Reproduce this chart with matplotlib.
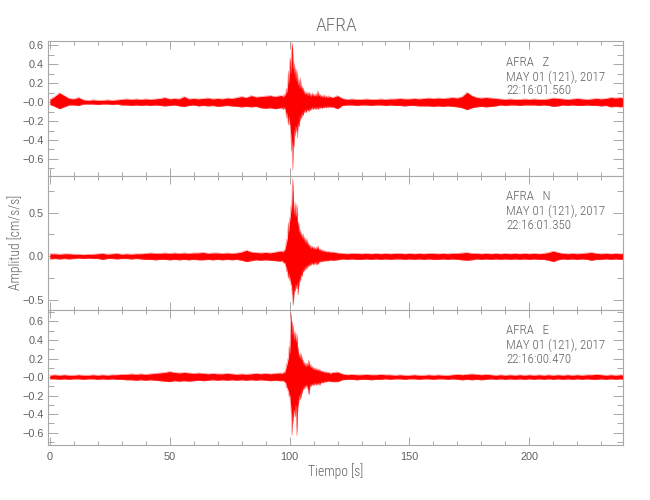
import numpy as np
import matplotlib
matplotlib.use('Agg')
import matplotlib.pyplot as plt
from matplotlib import font_manager
from matplotlib.ticker import FixedLocator, FixedFormatter, MultipleLocator

# ---------------- data (envelope of each trace) ----------------
station = "AFRA"
components = ["Z", "N", "E"]
start_times = ["22:16:01.560", "22:16:01.350", "22:16:00.470"]
date_label = "MAY 01 (121), 2017"

# time grids of the read envelope samples (s)
t_pre = np.arange(0, 97, 2.0)        # 0 .. 96
t_evt = np.arange(97, 117, 0.25)     # 97 .. 116.75
t_post = np.arange(118, 241, 2.0)    # 118 .. 240

# ---- Z ----
z_upper_pre = [.03, .06, .10, .07, .04, .035, .05, .025, .02, .025,
               .02, .02, .025, .02, .025, .03, .035, .03, .035, .03,
               .035, .03, .035, .04, .05, .035, .04, .035, .06, .035,
               .04, .035, .04, .045, .035, .04, .035, .045, .04, .05,
               .06, .05, .07, .055, .06, .065, .07, .06, .07]
z_lower_pre = [-.025, -.045, -.07, -.05, -.03, -.03, -.035, -.02, -.02, -.02,
               -.025, -.02, -.02, -.025, -.02, -.03, -.03, -.035, -.03, -.035,
               -.03, -.035, -.03, -.035, -.04, -.035, -.03, -.04, -.045, -.035,
               -.03, -.04, -.035, -.04, -.035, -.045, -.04, -.035, -.04, -.045,
               -.05, -.045, -.05, -.045, -.06, -.065, -.06, -.07, -.06]
z_upper_evt = [.07, .05, .08, .06, .09, .07, .12, .15, .10, .22, .33, .20,
               .42, .47, .30, .55, .63, .57, .35, .43, .30, .38, .25, .35,
               .22, .33, .20, .18, .24, .15, .26, .18, .14, .17, .12, .15,
               .10, .12, .08, .10, .09, .11, .07, .10, .08, .11, .07, .09,
               .06, .08, .10, .07, .09, .06, .08, .07, .09, .06, .10, .12,
               .08, .07, .09, .06, .08, .06, .07, .05, .07, .06, .08, .05,
               .06, .07, .05, .06, .05, .07, .05, .06]
z_lower_evt = [-.06, -.08, -.05, -.07, -.06, -.09, -.12, -.17, -.11, -.20, -.24, -.15,
               -.22, -.27, -.35, -.52, -.40, -.72, -.45, -.48, -.30, -.36, -.25, -.31,
               -.28, -.38, -.22, -.26, -.24, -.16, -.20, -.14, -.17, -.11, -.14, -.13,
               -.09, -.11, -.08, -.10, -.11, -.07, -.09, -.08, -.10, -.07, -.09, -.06,
               -.08, -.07, -.05, -.08, -.06, -.07, -.05, -.08, -.06, -.07, -.05, -.08,
               -.06, -.05, -.07, -.05, -.06, -.05, -.07, -.05, -.06, -.05, -.06, -.04,
               -.06, -.05, -.06, -.04, -.05, -.06, -.04, -.05]
z_upper_post = [.05, .07, .04, .03, .035, .03, .03, .035, .03, .03,
                .035, .03, .035, .035, .04, .035, .035, .04, .035, .04,
                .045, .04, .045, .04, .045, .05, .045, .06, .105, .07,
                .05, .045, .05, .045, .04, .035, .03, .035, .03, .03,
                .035, .03, .035, .03, .03, .035, .045, .04, .035, .03,
                .035, .04, .035, .03, .035, .04, .035, .04, .05, .045,
                .05, .04]
z_lower_post = [-.05, -.07, -.035, -.03, -.03, -.035, -.03, -.03, -.035, -.03,
                -.03, -.035, -.03, -.035, -.035, -.04, -.035, -.035, -.04, -.04,
                -.04, -.045, -.04, -.045, -.04, -.045, -.05, -.06, -.08, -.06,
                -.05, -.045, -.05, -.045, -.04, -.03, -.035, -.03, -.03, -.035,
                -.03, -.03, -.03, -.035, -.03, -.035, -.045, -.04, -.03, -.035,
                -.03, -.035, -.035, -.03, -.035, -.035, -.04, -.035, -.05, -.045,
                -.05, -.045]

# ---- N ----
n_upper_pre = [.03, .03, .025, .03, .03, .025, .025, .02, .025, .025,
               .03, .035, .025, .03, .035, .025, .03, .025, .03, .03,
               .035, .04, .035, .035, .04, .035, .04, .035, .04, .035,
               .04, .04, .045, .035, .04, .04, .035, .04, .035, .04,
               .05, .07, .05, .045, .04, .045, .04, .05, .06]
n_lower_pre = [-.03, -.025, -.03, -.025, -.03, -.025, -.02, -.025, -.02, -.025,
               -.025, -.035, -.025, -.025, -.03, -.025, -.025, -.03, -.025, -.03,
               -.035, -.035, -.04, -.035, -.035, -.04, -.035, -.04, -.035, -.04,
               -.035, -.04, -.04, -.035, -.04, -.035, -.04, -.035, -.04, -.035,
               -.045, -.06, -.05, -.04, -.045, -.04, -.045, -.05, -.055]
n_upper_evt = [.06, .05, .07, .06, .08, .10, .14, .20, .16, .30, .39, .28,
               .45, .40, .58, .50, .70, .89, .73, .55, .48, .62, .45, .52,
               .60, .42, .35, .39, .28, .31, .25, .28, .22, .25, .20, .26,
               .18, .22, .16, .20, .15, .20, .13, .16, .12, .14, .10, .125,
               .09, .12, .10, .11, .08, .11, .09, .10, .08, .11, .09, .12,
               .10, .08, .07, .09, .06, .08, .07, .065, .06, .07, .055, .065,
               .05, .06, .055, .05, .06, .05, .055, .05]
n_lower_evt = [-.05, -.07, -.06, -.08, -.07, -.10, -.12, -.18, -.14, -.22, -.25, -.20,
               -.28, -.24, -.33, -.30, -.42, -.48, -.56, -.45, -.38, -.40, -.32, -.36,
               -.37, -.30, -.44, -.35, -.29, -.25, -.29, -.22, -.20, -.23, -.16, -.18,
               -.14, -.17, -.12, -.15, -.11, -.14, -.10, -.12, -.09, -.11, -.10, -.08,
               -.10, -.07, -.09, -.08, -.10, -.07, -.09, -.06, -.08, -.10, -.07, -.09,
               -.08, -.06, -.07, -.05, -.065, -.05, -.06, -.05, -.06, -.045, -.055, -.05,
               -.045, -.055, -.05, -.045, -.05, -.045, -.05, -.04]
n_upper_post = [.05, .04, .035, .03, .035, .035, .03, .035, .03, .035,
                .03, .035, .03, .035, .035, .03, .035, .03, .035, .03,
                .035, .035, .03, .035, .03, .035, .035, .04, .045, .035,
                .035, .03, .035, .03, .035, .03, .035, .03, .035, .03,
                .035, .03, .035, .03, .035, .045, .06, .045, .035, .03,
                .035, .03, .035, .04, .045, .035, .03, .035, .03, .035,
                .03, .035]
n_lower_post = [-.045, -.04, -.03, -.035, -.03, -.035, -.035, -.03, -.035, -.03,
                -.035, -.03, -.035, -.03, -.03, -.035, -.03, -.035, -.03, -.035,
                -.03, -.035, -.035, -.03, -.035, -.03, -.035, -.04, -.045, -.04,
                -.03, -.035, -.03, -.035, -.03, -.035, -.03, -.035, -.03, -.035,
                -.03, -.035, -.03, -.035, -.035, -.045, -.06, -.04, -.03, -.035,
                -.03, -.035, -.03, -.035, -.045, -.035, -.035, -.03, -.035, -.03,
                -.035, -.03]

# ---- E ----
e_upper_pre = [.02, .025, .02, .025, .02, .02, .025, .02, .02, .025,
               .02, .025, .02, .025, .025, .03, .03, .035, .03, .035,
               .03, .035, .04, .045, .05, .06, .05, .045, .05, .045,
               .04, .045, .04, .035, .04, .035, .035, .04, .035, .03,
               .035, .03, .035, .04, .035, .04, .035, .04, .045]
e_lower_pre = [-.02, -.02, -.025, -.02, -.025, -.02, -.02, -.025, -.02, -.02,
               -.025, -.02, -.025, -.02, -.025, -.025, -.03, -.03, -.035, -.03,
               -.035, -.03, -.035, -.04, -.045, -.05, -.04, -.045, -.04, -.045,
               -.04, -.035, -.04, -.035, -.03, -.035, -.03, -.035, -.03, -.035,
               -.03, -.035, -.03, -.035, -.03, -.035, -.04, -.035, -.04]
e_upper_evt = [.04, .05, .04, .06, .05, .08, .10, .15, .12, .20, .18, .33,
               .25, .40, .70, .62, .58, .45, .56, .48, .40, .49, .42, .38,
               .47, .35, .30, .26, .22, .25, .20, .26, .18, .22, .15, .18,
               .13, .16, .12, .15, .11, .15, .12, .16, .18, .13, .11, .14,
               .10, .12, .09, .11, .08, .10, .09, .08, .10, .07, .09, .08,
               .07, .09, .06, .08, .07, .06, .07, .055, .065, .05, .06, .055,
               .05, .06, .045, .055, .05, .045, .055, .04]
e_lower_evt = [-.04, -.035, -.05, -.04, -.06, -.05, -.08, -.12, -.10, -.15, -.13, -.21,
               -.18, -.25, -.32, -.45, -.63, -.40, -.50, -.35, -.38, -.43, -.30, -.45,
               -.63, -.40, -.30, -.28, -.20, -.25, -.18, -.23, -.15, -.18, -.12, -.14,
               -.10, -.13, -.09, -.11, -.08, -.10, -.12, -.15, -.19, -.14, -.10, -.08,
               -.10, -.07, -.09, -.08, -.07, -.09, -.06, -.08, -.07, -.09, -.06, -.08,
               -.07, -.06, -.09, -.07, -.06, -.055, -.065, -.05, -.06, -.05, -.055, -.045,
               -.055, -.05, -.045, -.05, -.04, -.05, -.04, -.045]
e_upper_post = [.05, .055, .035, .025, .03, .025, .025, .03, .025, .025,
                .03, .025, .025, .02, .025, .02, .02, .025, .02, .02,
                .025, .02, .025, .02, .02, .025, .03, .025, .03, .035,
                .03, .025, .03, .025, .02, .025, .02, .025, .02, .025,
                .02, .025, .02, .025, .02, .025, .02, .025, .02, .025,
                .02, .025, .02, .025, .025, .03, .025, .02, .025, .02,
                .025, .02]
e_lower_post = [-.05, -.05, -.03, -.025, -.025, -.03, -.025, -.025, -.03, -.025,
                -.025, -.02, -.025, -.02, -.02, -.025, -.02, -.02, -.025, -.02,
                -.02, -.025, -.02, -.02, -.025, -.02, -.025, -.03, -.025, -.03,
                -.025, -.03, -.025, -.02, -.025, -.02, -.025, -.02, -.025, -.02,
                -.025, -.02, -.025, -.02, -.025, -.02, -.025, -.02, -.025, -.02,
                -.025, -.02, -.025, -.02, -.025, -.025, -.02, -.025, -.02, -.025,
                -.02, -.025]

# axis settings per panel
y_limits = [(-0.775, 0.647), (-0.607, 0.924), (-0.732, 0.728)]
y_major = [[0.6, 0.4, 0.2, 0.0, -0.2, -0.4, -0.6], [0.5, 0.0, -0.5],
           [0.6, 0.4, 0.2, 0.0, -0.2, -0.4, -0.6]]
y_labels = [["0.6", "0.4", "0.2", "\u22120.0", "\u22120.2", "\u22120.4", "\u22120.6"],
            ["0.5", "0.0", "\u22120.5"],
            ["0.6", "0.4", "0.2", "\u22120.0", "\u22120.2", "\u22120.4", "\u22120.6"]]
y_minor = [0.1, 0.25, 0.1]
x_major = [0, 50, 100, 150, 200]
x_labels = ["0", "50", "100", "150", "200"]
x_limits = (-0.9, 239.2)

# ---------------- fonts ----------------
names = {f.name for f in font_manager.fontManager.ttflist}
COND = next((n for n in ['Roboto Condensed', 'Open Sans Condensed', 'PT Sans Narrow',
                         'Archivo Narrow', 'Liberation Sans Narrow'] if n in names), 'DejaVu Sans')
REG = 'Liberation Sans' if 'Liberation Sans' in names else 'DejaVu Sans'

TXT = '#606060'
AXC = '#a8a8a8'
TRACE = '#ff0000'

fig = plt.figure(figsize=(6.5, 5.0), dpi=100)
left, width = 47.7 / 650, (623.3 - 47.7) / 650
tops = [41, 175.5, 309.5, 445]

uppers = [(z_upper_pre, z_upper_evt, z_upper_post),
          (n_upper_pre, n_upper_evt, n_upper_post),
          (e_upper_pre, e_upper_evt, e_upper_post)]
lowers = [(z_lower_pre, z_lower_evt, z_lower_post),
          (n_lower_pre, n_lower_evt, n_lower_post),
          (e_lower_pre, e_lower_evt, e_lower_post)]

for i in range(3):
    y0 = 1 - tops[i + 1] / 500
    hpx = tops[i + 1] - tops[i]
    ax = fig.add_axes([left, y0, width, hpx / 500])
    t = np.concatenate([t_pre, t_evt, t_post])
    up = np.concatenate([np.asarray(a, float) for a in uppers[i]])
    lo = np.concatenate([np.asarray(a, float) for a in lowers[i]])
    ax.fill_between(t, lo, up, color=TRACE, lw=0.0, zorder=2)
    ax.plot(t, up, color='#ff5050', lw=0.45, alpha=0.6, zorder=3)
    ax.plot(t, lo, color='#ff5050', lw=0.45, alpha=0.6, zorder=3)

    ax.set_xlim(*x_limits)
    ax.set_ylim(*y_limits[i])
    ax.xaxis.set_major_locator(FixedLocator(x_major))
    ax.xaxis.set_minor_locator(MultipleLocator(10))
    ax.yaxis.set_major_locator(FixedLocator(y_major[i]))
    ax.yaxis.set_major_formatter(FixedFormatter(y_labels[i]))
    ax.yaxis.set_minor_locator(MultipleLocator(y_minor[i]))
    if i == 2:
        ax.xaxis.set_major_formatter(FixedFormatter(x_labels))
    else:
        ax.xaxis.set_major_formatter(FixedFormatter([""] * len(x_major)))
    ax.tick_params(axis='x', which='major', direction='in', length=5.8, width=0.7,
                   color=AXC, top=True, bottom=True, labelcolor=TXT, labelsize=7.8, pad=5)
    ax.tick_params(axis='x', which='minor', direction='in', length=2.9, width=0.7,
                   color=AXC, top=True, bottom=True)
    ax.tick_params(axis='y', which='major', direction='in', length=7.0, width=0.7,
                   color=AXC, left=True, right=True, labelcolor=TXT, labelsize=7.8, pad=3)
    ax.tick_params(axis='y', which='minor', direction='in', length=4.0, width=0.7,
                   color=AXC, left=True, right=True)
    for lab in ax.get_xticklabels() + ax.get_yticklabels():
        lab.set_fontfamily(REG)
    for sp in ax.spines.values():
        sp.set_color(AXC)
        sp.set_linewidth(0.8)

    lines = [f"{station}   {components[i]}", date_label, start_times[i]]
    baselines_px = [24.7, 39.7, 53.3]
    for ln, bpx in zip(lines, baselines_px):
        ax.text(0.797, 1 - bpx / hpx, ln, transform=ax.transAxes, ha='left', va='baseline',
                fontsize=9.4, family=COND, fontweight='light', color=TXT, zorder=5)

fig.text(0.518, 1 - 30.7 / 500, station, ha='center', va='baseline', fontsize=14,
         family=COND, fontweight='light', color='#707070')
fig.text(0.517, 1 - 476 / 500, "Tiempo [s]", ha='center', va='baseline', fontsize=9.8,
         family=COND, fontweight='light', color=TXT)
fig.text(0.023, 0.515, "Amplitud [cm/s/s]", ha='center', va='center', rotation=90,
         fontsize=9.8, family=COND, fontweight='light', color=TXT)

fig.savefig('out.png', dpi=100)
